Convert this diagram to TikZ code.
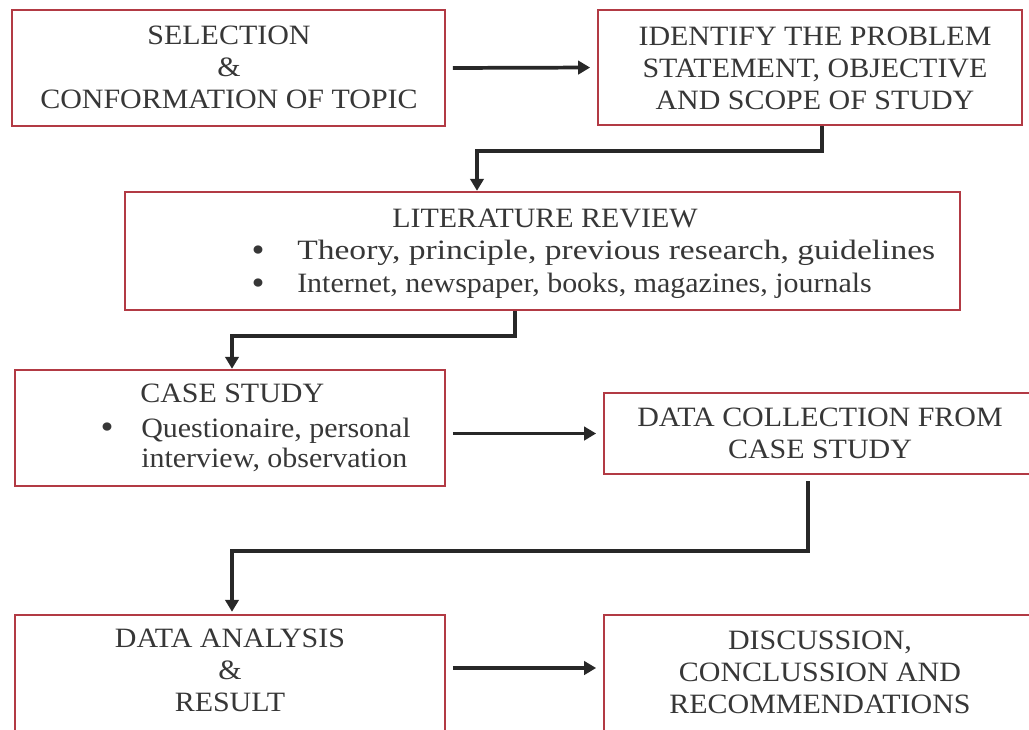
\documentclass[tikz,border=0pt]{standalone}
\usepackage{fontspec}
\setmainfont[FakeStretch=1.07]{Liberation Serif}
\usetikzlibrary{arrows.meta,calc}
\definecolor{boxred}{RGB}{178,58,68}
\definecolor{txt}{RGB}{55,55,55}
\definecolor{arr}{RGB}{40,40,40}
\begin{document}
\begin{tikzpicture}[x=0.75pt,y=-0.75pt,
  box/.style={draw=boxred,line width=1.8pt,fill=white,inner sep=0pt},
  lbl/.style={text=txt,font=\fontsize{21}{24}\selectfont,align=center,inner sep=0pt},
  lbll/.style={text=txt,font=\fontsize{21}{22.5}\selectfont,align=left,inner sep=0pt,anchor=west},
  bul/.style={text=txt,font=\fontsize{26}{26}\selectfont,inner sep=0pt},
  conn/.style={draw=arr,line width=2.8pt,-{Triangle[length=9pt,width=10pt]}}]
\fill[white] (0,0) rectangle (1029,729);
\useasboundingbox (0,0) rectangle (1029,729);
% boxes
\node[box,minimum width=324.75pt,minimum height=87pt] (b1) at (228.5,68) {};
\node[box,minimum width=318pt,minimum height=86.25pt] (b2) at (810,67.5) {};
\node[box,minimum width=626.25pt,minimum height=88.5pt] (b3) at (542.5,251) {};
\node[box,minimum width=322.5pt,minimum height=87pt] (b4) at (230,428) {};
\node[box,minimum width=321pt,minimum height=60.75pt] (b5) at (818,433.5) {};
\node[box,minimum width=322.5pt,minimum height=90pt] (b6) at (230,675) {};
\node[box,minimum width=323.25pt,minimum height=90pt] (b7) at (819.5,675) {};
% texts
\node[lbl] (t1) at (229,67) {SELECTION\\\&\\CONFORMATION OF TOPIC};
\node[lbl] (t2) at (815,68) {IDENTIFY THE PROBLEM\\STATEMENT, OBJECTIVE\\AND SCOPE OF STUDY};
\node[lbl] (t3) at (545,218) {LITERATURE REVIEW};
\node[bul] (k31) at (258,254) {\textbullet};
\node[lbll,xscale=1.12,transform shape] (t31) at (297,253) {Theory, principle, previous research, guidelines};
\node[bul] (k32) at (258,287) {\textbullet};
\node[lbll] (t32) at (297,286) {Internet, newspaper, books, magazines, journals};
\node[lbll] (t4) at (140,393) {CASE STUDY};
\node[bul] (k41) at (107,431) {\textbullet};
\node[lbll] (t41) at (141,445) {Questionaire, personal\\interview, observation};
\node[lbl] (t5) at (820,433) {DATA COLLECTION FROM\\CASE STUDY};
\node[lbl] (t6) at (230,670.5) {DATA ANALYSIS\\\&\\RESULT};
\node[lbl] (t7) at (820,672.5) {DISCUSSION,\\CONCLUSSION AND\\RECOMMENDATIONS};
% connectors
\draw[conn,shorten <=5pt,shorten >=5pt] (b1.east) -- (b2.west);
\draw[conn] ($(b2.south)+(12,0)$) -- ++(0,25) -| ($(b3.north)+(-65.5,0)$);
\draw[conn] ($(b3.south)+(-27.5,0)$) -- ++(0,25) -| ($(b4.north)+(2,0)$);
\draw[conn,shorten <=5pt,shorten >=5pt] (b4.east |- b5.west) -- (b5.west);
\draw[conn] ($(b5.south)+(-10,6)$) -- ++(0,70) -| ($(b6.north)+(2,-2)$);
\draw[conn,shorten <=5pt,shorten >=5pt] ($(b6.east)+(0,-7)$) -- ($(b7.west)+(0,-7)$);
\end{tikzpicture}
\end{document}
